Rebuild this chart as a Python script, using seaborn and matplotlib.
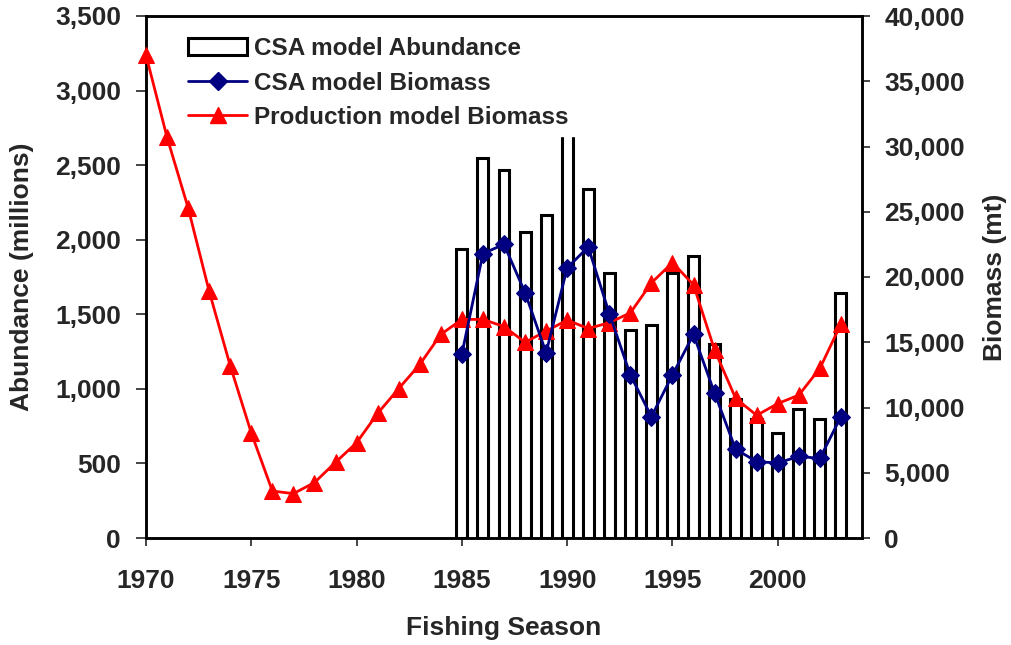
import numpy as np
import pandas as pd
import seaborn as sns
import matplotlib
matplotlib.use("Agg")
import matplotlib.pyplot as plt
from matplotlib.ticker import FuncFormatter, MultipleLocator
from matplotlib.patches import Patch
from matplotlib.lines import Line2D

# Fishing seasons
prod_years = list(range(1970, 2004))
csa_years = list(range(1985, 2004))

# CSA model abundance (millions)
csa_abundance = [1940, 2550, 2470, 2050, 2165, 3000, 2340, 1780, 1395, 1425,
                 1780, 1890, 1300, 930, 800, 705, 865, 800, 1640]

# CSA model biomass (mt)
csa_biomass = [14100, 21800, 22500, 18800, 14200, 20700, 22300, 17200, 12500, 9300,
               12500, 15600, 11100, 6800, 5850, 5750, 6250, 6100, 9300]

# Production model biomass (mt)
prod_biomass = [37000, 30700, 25300, 18900, 13200, 8050, 3600, 3400, 4250, 5800,
                7300, 9550, 11450, 13300, 15600, 16750, 16750, 16200, 15000, 15850,
                16700, 16050, 16500, 17250, 19550, 21100, 19400, 14400, 10700, 9400,
                10300, 10950, 13000, 16400]

sns.set_style("white")
plt.rcParams["font.family"] = ["Liberation Sans", "DejaVu Sans"]
plt.rcParams["font.weight"] = "bold"

fig = plt.figure(figsize=(10.11, 6.45), dpi=100)
ax = fig.add_axes([146 / 1011, 1 - 538 / 645, 716 / 1011, 522 / 645])
ax2 = ax.twinx()

abund_df = pd.DataFrame({"year": csa_years, "abundance": csa_abundance})
csa_df = pd.DataFrame({"year": csa_years, "biomass": csa_biomass})
prod_df = pd.DataFrame({"year": prod_years, "biomass": prod_biomass})

sns.barplot(data=abund_df, x="year", y="abundance", native_scale=True, width=0.52,
            color="white", edgecolor="black", linewidth=2.2, ax=ax, zorder=2)

sns.lineplot(data=prod_df, x="year", y="biomass", color="#ff0000", linewidth=2.0,
             marker="^", markersize=12, markeredgecolor="#ff0000",
             markerfacecolor="#ff0000", ax=ax2, clip_on=False, zorder=3)
sns.lineplot(data=csa_df, x="year", y="biomass", color="#000080", linewidth=2.0,
             marker="D", markersize=9, markeredgecolor="#000080",
             markerfacecolor="#000080", ax=ax2, zorder=4)

ax.set_xlim(1970, 2004)
ax.set_ylim(0, 3500)
ax2.set_ylim(0, 40000)
ax.set_xticks([1970, 1975, 1980, 1985, 1990, 1995, 2000])
ax.yaxis.set_major_locator(MultipleLocator(500))
ax2.yaxis.set_major_locator(MultipleLocator(5000))
comma = FuncFormatter(lambda v, p: f"{int(v):,}")
ax.yaxis.set_major_formatter(comma)
ax2.yaxis.set_major_formatter(comma)

for a in (ax, ax2):
    for s in a.spines.values():
        s.set_linewidth(1.8)
        s.set_color("black")
    a.set_facecolor("none")

ax.tick_params(axis="y", which="major", direction="out", length=7, width=1.2,
               labelsize=19, pad=11, left=True)
ax.tick_params(axis="x", which="major", direction="out", length=6, width=1.2,
               labelsize=19, pad=16, bottom=True)
ax2.tick_params(axis="y", which="major", direction="out", length=6, width=1.2,
                labelsize=19, pad=10, right=True)
for lbl in ax.get_xticklabels() + ax.get_yticklabels() + ax2.get_yticklabels():
    lbl.set_fontweight("bold")

ax.set_xlabel("Fishing Season", fontsize=19, fontweight="bold")
ax.set_ylabel("Abundance (millions)", fontsize=19, fontweight="bold")
ax2.set_ylabel("Biomass (mt)", fontsize=19, fontweight="bold")
ax.xaxis.set_label_coords(0.5, -(628 - 538) / 522)
ax.xaxis.label.set_va("center")
ax.yaxis.set_label_coords((22 - 146) / 716, 0.5)
ax.yaxis.label.set_va("center")
ax2.yaxis.set_label_coords((995 - 146) / 716, 0.5)
ax2.yaxis.label.set_va("center")

ax.set_zorder(1)
ax2.set_zorder(2)

handles = [
    Patch(facecolor="white", edgecolor="black", linewidth=2.2),
    Line2D([], [], color="#000080", linewidth=2.0, marker="D", markersize=9),
    Line2D([], [], color="#ff0000", linewidth=2.0, marker="^", markersize=12),
]
labels = ["CSA model Abundance", "CSA model Biomass", "Production model Biomass"]
leg = ax2.legend(handles, labels, loc="upper left",
                 bbox_to_anchor=((169 - 146) / 716, 1 - (18 - 16) / 522),
                 frameon=True, facecolor="white", edgecolor="white", framealpha=1.0,
                 fancybox=False, borderpad=0.3, handlelength=2.4, handletextpad=0.3,
                 labelspacing=0.46, prop={"size": 17.5, "weight": "bold"})
leg.set_zorder(10)

fig.savefig("out.png", dpi=100)
